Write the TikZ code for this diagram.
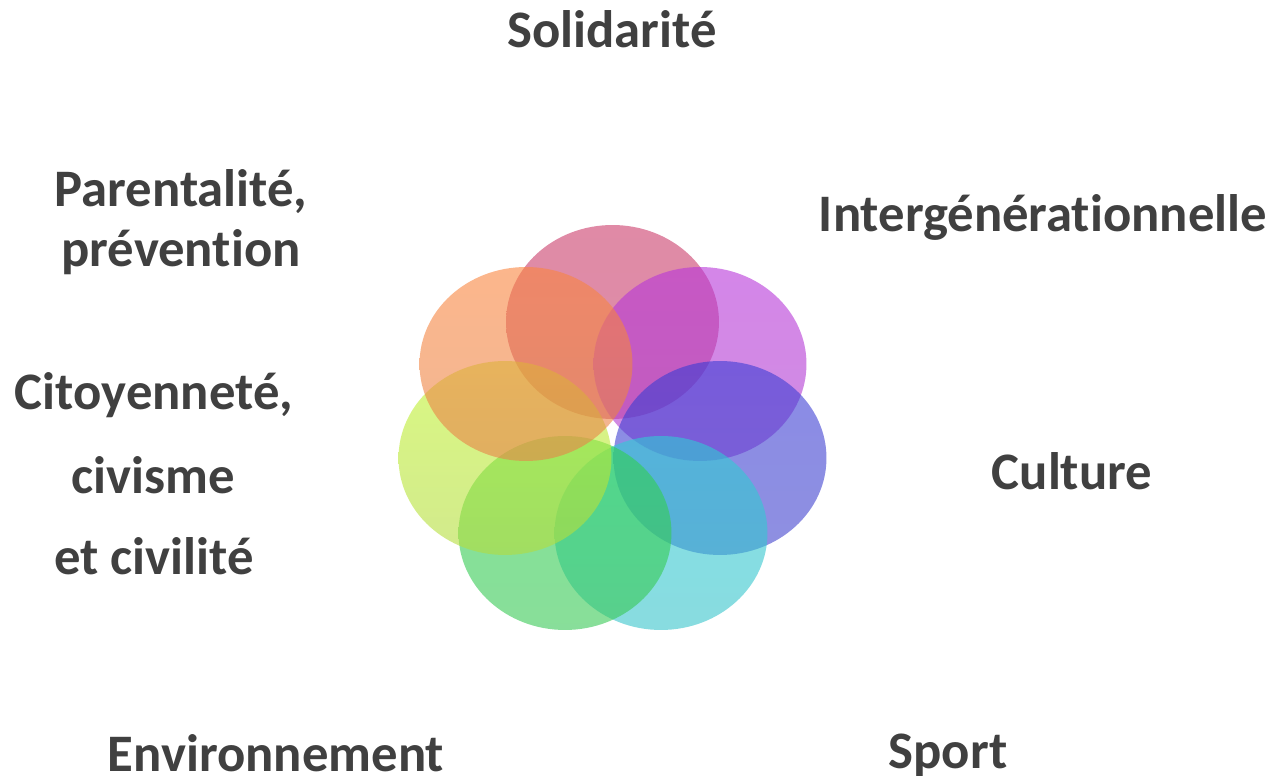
\documentclass[tikz,border=0pt]{standalone}
\usepackage{fontspec}
\setmainfont[Ligatures=NoCommon]{Carlito}
\usepackage{xcolor}
\usepackage{tikz}
\usetikzlibrary{shapes.geometric}
\definecolor{TextGray}{RGB}{64,64,64}
\definecolor{PetPink}{RGB}{203,60,107}
\definecolor{PetPurple}{RGB}{183,53,217}
\definecolor{PetBlue}{RGB}{60,62,213}
\definecolor{PetCyan}{RGB}{47,205,213}
\definecolor{PetGreen}{RGB}{47,210,80}
\definecolor{PetYellow}{RGB}{193,243,47}
\definecolor{PetOrange}{RGB}{250,133,63}
\tikzset{
    petal/.style={ellipse, minimum width=4.26cm, minimum height=3.88cm, inner sep=0pt,
        fill opacity=0.6, draw=none},
    topic/.style={anchor=base, inner sep=0pt, text=TextGray,
        font=\fontsize{30}{34}\selectfont\bfseries},
}

\begin{document}
\begin{tikzpicture}[x=0.02cm, y=-0.02cm]
    \useasboundingbox (0,0) rectangle (1275,776);
    % seven petals, clockwise from the top
    \node[petal, top color=PetPink, bottom color=PetPink!90!gray] (solP) at (612.5,322) {};
    \node[petal, top color=PetPurple, bottom color=PetPurple!88!gray] (intP) at (700,364) {};
    \node[petal, top color=PetBlue, bottom color=PetBlue!90!gray] (culP) at (720,458) {};
    \node[petal, top color=PetCyan, bottom color=PetCyan!88!gray] (spoP) at (661,533) {};
    \node[petal, top color=PetGreen, bottom color=PetGreen!88!gray] (envP) at (565,533) {};
    \node[petal, top color=PetYellow, bottom color=PetYellow!80!gray] (citP) at (505,458) {};
    \node[petal, top color=PetOrange, bottom color=PetOrange!85!gray] (parP) at (526,364) {};

    % labels round the flower
    \node[topic] (sol) at (612,48) {Solidarité};
    \node[topic] (inter) at (1043,232) {Intergénérationnelle};
    \node[topic] (cult) at (1072,490) {Culture};
    \node[topic] (sport) at (948,768) {Sport};
    \node[topic] (env) at (276,771) {Environnement};
    \node[topic] (cit1) at (154,410) {Citoyenneté,};
    \node[topic] (cit2) at (153,494) {civisme};
    \node[topic] (cit3) at (154,575) {et civilité};
    \node[topic] (par1) at (181,207) {Parentalité,};
    \node[topic] (par2) at (181,267) {prévention};
\end{tikzpicture}
\end{document}
